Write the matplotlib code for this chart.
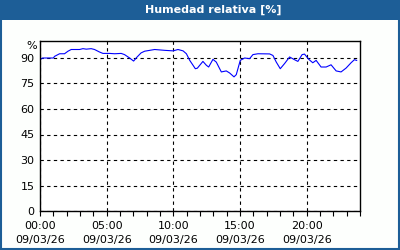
import matplotlib
matplotlib.use("Agg")
import matplotlib.pyplot as plt
from matplotlib.patches import Rectangle

# hours since 00:00 and relative humidity (%)
hours = [0.0, 0.2, 1.0, 1.1, 1.47, 1.84, 2.1, 2.34, 2.97, 3.22, 3.47, 3.84, 4.09,
         4.47, 4.72, 5.22, 5.6, 6.09, 6.34, 6.72, 7.02, 7.27, 7.58, 7.85, 8.6,
         9.36, 9.98, 10.35, 10.73, 10.98, 11.23, 11.48, 11.65, 11.8, 12.22,
         12.48, 12.65, 12.97, 13.22, 13.6, 13.97, 14.22, 14.55, 14.72, 15.02,
         15.35, 15.72, 15.97, 16.35, 17.22, 17.47, 17.72, 18.02, 18.34, 18.72,
         19.09, 19.34, 19.66, 19.84, 20.16, 20.46, 20.71, 21.08, 21.46, 21.83,
         22.21, 22.58, 22.96, 23.33, 23.58, 23.75]
humidity = [89, 90, 90, 91, 92.5, 92.5, 94, 95, 95, 95.5, 95.2, 95.5, 95,
            93.5, 92.7, 92.7, 92.5, 92.7, 92, 90, 88.2, 90.5, 93, 94, 95,
            94.5, 94.2, 95, 94.2, 92.5, 88.6, 85.7, 83.7, 84, 88,
            85.7, 84.7, 89.2, 87.6, 81.8, 82.4, 81.2, 78.9, 80.2, 88.6,
            90, 89.6, 92, 92.5, 92.4, 91.5, 87.6, 83.7, 86.7, 90.6,
            89, 88, 92, 92.3, 89.2, 87.2, 88.6, 84.7, 84.7, 86,
            82.4, 81.8, 84.1, 87.2, 89, 88.6]

tick_hours = [0, 5, 10, 15, 20]
tick_labels = ["00:00\n09/03/26", "05:00\n09/03/26", "10:00\n09/03/26",
               "15:00\n09/03/26", "20:00\n09/03/26"]
y_ticks = [0, 15, 30, 45, 60, 75, 90]

title = "Humedad relativa [%]"
bar_color = "#1d5e97"

fig = plt.figure(figsize=(4, 2.5), dpi=100, facecolor="#fdfffd")

# title bar and frame
fig.patches.append(Rectangle((0, 0.92), 1, 0.08, transform=fig.transFigure,
                             facecolor=bar_color, edgecolor="none", zorder=0))
fig.patches.append(Rectangle((0.0025, 0.004), 0.995, 0.994, transform=fig.transFigure,
                             facecolor="none", edgecolor=bar_color, linewidth=1.5, zorder=5))
fig.text(0.533, 0.962, title, color="white", fontsize=8, fontweight="bold",
         ha="center", va="center", family="DejaVu Sans")

ax = fig.add_axes([0.1, 0.156, 0.8, 0.68])
ax.set_facecolor("white")
ax.plot(hours, humidity, color="#0000ff", linewidth=0.8)

ax.set_xlim(0, 24)
ax.set_ylim(0, 100)
ax.set_xticks(tick_hours)
ax.set_xticklabels(tick_labels, fontsize=8, linespacing=1.45)
ax.set_xticks(range(25), minor=True)
ax.set_yticks(y_ticks)
ax.set_yticklabels([str(v) for v in y_ticks], fontsize=8)
ax.tick_params(axis="x", which="both", direction="out", length=3.5, width=0.8, pad=4)
ax.tick_params(axis="y", length=0, pad=4)
ax.grid(True, color="black", linestyle=(0, (3, 3)), linewidth=0.8)
for sp in ax.spines.values():
    sp.set_linewidth(1.0)
    sp.set_color("black")

ax.text(-0.01, 1.0, "%", transform=ax.transAxes, fontsize=8,
        ha="right", va="top")

fig.savefig("out.png", dpi=100, facecolor=fig.get_facecolor())
